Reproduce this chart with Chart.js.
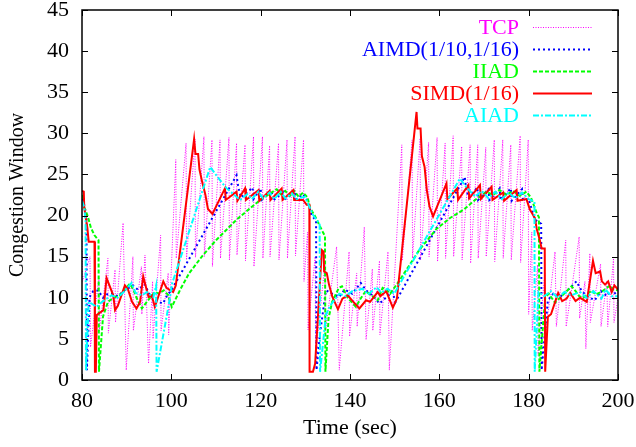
<!DOCTYPE html>
<html>
<head>
<meta charset="utf-8">
<script src="https://cdn.jsdelivr.net/npm/chart.js"></script>
<style>
    body { margin: 0; background: #fff; }
    #wrap { width: 636px; height: 447px; }
</style>
</head>
<body>
<div id="wrap"><canvas id="cwnd" width="636" height="447"></canvas></div>
<script>
// --- data (time in sec, congestion window) ---
const tcpX = [80.0, 80.1, 81.8, 81.9, 83.8, 83.9, 85.8, 85.9, 87.4, 87.5, 89.2, 89.9, 91.4, 91.5, 93.3, 93.4, 94.1, 94.9, 95.8, 95.9, 97.6, 97.7, 99.3, 99.4,
    101.0, 101.1, 103.3, 103.4, 105.3, 105.4, 107.3, 107.4, 109.1, 109.2, 110.9, 111.0, 112.9, 113.0, 114.6, 114.7, 116.5, 116.6, 118.4, 118.5,
    120.4, 120.5, 122.0, 122.1, 124.0, 124.1, 125.9, 126.0, 127.7, 127.8, 129.6, 129.7,
    130.5, 130.6, 132.2, 132.3, 134.4, 134.5, 137.0, 137.6, 139.8, 139.9, 141.5, 141.6, 143.2, 143.6, 145.0, 145.1, 146.6, 146.7, 148.5, 148.8,
    151.6, 151.7, 153.9, 154.0, 155.7, 155.8, 157.6, 157.7, 159.5, 159.6, 161.3, 161.4, 163.1, 163.2, 165.0, 165.1, 166.9, 167.0, 168.6, 168.7,
    170.4, 170.5, 172.3, 172.4, 174.2, 174.3, 176.0, 176.1, 178.1, 178.2, 179.9, 180.0,
    180.7, 180.8, 182.0, 182.1, 183.6, 183.7, 185.9, 186.2, 188.3, 188.4, 191.3, 191.4, 192.6, 192.8, 193.7, 193.8, 196.1, 196.2, 197.5, 197.7, 199.0, 199.1, 200.0];
const tcpY = [17.5, 12.0, 15.0, 4.0, 12.5, 6.0, 14.8, 5.7, 13.4, 7.0, 19.1, 1.2, 15.0, 6.0, 13.8, 8.0, 15.2, 2.0, 12.0, 5.0, 17.6, 6.0, 13.0, 5.5,
    26.8, 14.8, 28.8, 14.6, 29.3, 14.9, 29.6, 15.0, 29.2, 13.8, 29.2, 14.8, 29.5, 14.6, 28.8, 15.2, 28.6, 14.5, 29.6, 13.8,
    29.6, 14.8, 28.5, 15.0, 28.8, 14.6, 29.2, 14.8, 29.6, 15.1, 29.2, 12.0,
    18.0, 6.1, 15.0, 3.0, 14.2, 6.0, 16.2, 1.2, 15.6, 5.3, 13.0, 6.5, 18.6, 4.9, 13.5, 6.0, 14.5, 5.5, 15.6, 1.2,
    28.6, 14.5, 29.2, 14.8, 29.4, 14.6, 28.9, 15.0, 29.5, 14.4, 28.8, 14.8, 29.7, 15.0, 28.4, 14.6, 28.6, 14.2, 28.6, 14.8,
    28.3, 15.0, 29.2, 14.4, 29.2, 14.8, 28.6, 14.6, 29.7, 14.3, 29.2, 8.0,
    18.0, 6.0, 14.0, 3.0, 13.0, 5.0, 15.6, 6.5, 17.0, 6.5, 17.4, 7.5, 12.0, 3.8, 15.4, 7.0, 14.1, 6.5, 12.0, 6.5, 14.8, 7.0, 10.0];

const aimdX = [80.0, 80.5, 81.0, 81.1, 81.7, 82.5, 83.6, 84.7, 85.5, 86.6, 88.0, 89.5, 91.4, 92.5, 94.1, 95.0, 96.3, 98.1, 99.0, 100.1,
    114.6, 115.0, 115.6, 118.2, 118.4, 120.0, 120.2, 122.5, 122.7, 125.0, 125.2, 127.8, 128.0, 129.5, 130.5, 131.4, 132.4, 132.5, 133.3,
    134.6, 136.0, 137.6, 138.8, 140.5, 142.4, 143.6, 145.0, 146.6, 148.0, 149.5, 150.2,
    165.7, 166.0, 166.6, 168.5, 168.7, 171.0, 171.2, 173.5, 173.7, 176.0, 176.2, 178.5, 178.7, 180.0, 181.4, 182.8, 182.9,
    184.3, 185.5, 187.0, 188.5, 190.7, 191.8, 193.0, 194.8, 196.2, 197.5, 198.5, 200.0];
const aimdY = [22.0, 21.3, 20.0, 1.2, 10.1, 10.8, 10.9, 10.0, 10.4, 10.5, 10.2, 10.9, 11.5, 11.0, 11.6, 10.5, 9.7, 9.3, 10.2, 11.0,
    24.9, 23.4, 22.2, 23.4, 22.0, 23.3, 21.9, 23.0, 21.8, 22.8, 21.9, 22.9, 22.0, 22.6, 21.8, 20.0, 19.4, 1.2, 5.7,
    10.9, 10.5, 10.1, 11.0, 10.5, 11.8, 10.9, 10.3, 9.3, 10.0, 10.7, 9.5,
    24.7, 23.2, 22.2, 23.4, 21.9, 23.2, 21.9, 23.3, 21.9, 23.3, 21.8, 23.2, 21.9, 22.0, 19.5, 19.0, 1.2,
    9.7, 10.5, 10.1, 10.8, 12.0, 10.9, 10.2, 9.7, 10.8, 10.2, 11.0, 10.2];

const iiadX = [80.0, 80.5, 81.3, 82.0, 82.8, 83.7, 83.8, 84.7, 85.8, 87.0, 88.5, 89.5, 90.7, 91.5, 92.2, 93.4, 94.5, 96.3, 97.2, 98.3, 99.2, 100.1,
    102.0, 104.0, 107.1, 110.0, 114.6, 117.0, 119.9, 123.6, 124.5, 125.5, 126.5, 127.5, 128.5, 129.5, 130.5, 131.0, 132.2, 134.0, 134.4, 134.5,
    135.2, 136.0, 137.5, 138.2, 139.5, 141.3, 142.5, 143.5, 144.8, 146.2, 147.3, 148.0, 149.0,
    151.2, 155.5, 159.4, 162.4, 165.4, 168.0, 170.6, 172.0, 173.5, 175.0, 176.5, 178.0, 179.5, 180.5, 181.8, 182.3, 182.4,
    183.7, 184.5, 185.9, 187.0, 188.5, 189.6, 190.5, 191.3, 192.2, 194.1, 195.0, 196.5, 198.2, 199.0, 200.0];
const iiadY = [22.5, 21.0, 19.9, 18.5, 17.6, 17.0, 1.0, 7.7, 9.5, 10.0, 10.3, 11.0, 11.7, 11.0, 10.0, 8.7, 9.5, 10.7, 10.5, 10.9, 10.4, 8.9,
    11.0, 13.0, 15.2, 17.0, 19.5, 20.6, 21.9, 23.2, 22.6, 23.0, 22.4, 23.0, 22.3, 22.8, 22.2, 21.0, 19.9, 17.9, 17.5, 1.0,
    7.5, 9.5, 11.2, 11.4, 10.0, 8.9, 10.0, 10.8, 10.3, 9.7, 11.2, 11.0, 10.5,
    12.2, 15.8, 18.4, 19.7, 20.7, 21.9, 22.9, 22.5, 23.1, 22.5, 23.0, 22.4, 22.9, 22.2, 20.3, 19.8, 1.0,
    10.0, 10.5, 9.4, 10.0, 10.8, 11.4, 10.8, 10.2, 10.0, 10.9, 10.4, 10.8, 11.5, 11.0, 10.9];

const simdX = [80.0, 80.4, 80.5, 81.2, 81.5, 82.8, 82.9, 83.1, 83.3, 84.8, 85.5, 87.0, 87.4, 88.0, 89.6, 90.3, 91.2, 92.2, 93.0, 93.7,
    94.9, 95.6, 96.3, 97.0, 98.2, 98.9, 100.4, 101.0, 105.1, 105.4, 106.0, 106.3, 106.9, 107.6, 108.2, 109.2,
    112.0, 112.2, 114.6, 114.8, 116.5, 116.7, 119.5, 119.7, 122.0, 122.2, 124.7, 124.9, 127.3, 127.5, 129.5, 130.3, 130.9, 130.95,
    131.7, 132.2, 133.7, 134.1, 134.2, 134.8, 135.3, 136.0, 137.3, 138.3, 139.5, 140.6, 142.1, 143.6, 144.5, 146.2, 146.8, 148.1, 149.6, 150.5,
    154.9, 155.1, 155.8, 156.1, 156.7, 157.2, 157.8, 158.6, 161.6, 161.8, 164.0, 164.2, 166.5, 166.7, 169.1, 169.3, 171.7, 171.9,
    174.3, 174.5, 177.3, 177.5, 179.5, 180.3, 181.4, 181.8, 182.5, 182.9, 183.6, 183.7,
    184.3, 185.0, 186.6, 187.5, 188.5, 189.3, 190.5, 191.5, 193.0, 194.4, 195.0, 196.0, 196.4, 197.1, 197.8, 198.6, 199.2, 200.0];
const simdY = [23.0, 22.9, 21.0, 18.5, 16.8, 16.8, 1.0, 1.0, 7.9, 8.5, 12.4, 10.3, 8.5, 9.0, 11.5, 11.0, 9.5, 8.7, 9.5, 12.6,
    10.1, 10.3, 8.9, 10.0, 12.0, 11.2, 10.7, 11.5, 29.3, 27.5, 27.5, 25.6, 24.1, 22.6, 20.8, 20.2,
    23.3, 21.9, 22.9, 21.8, 23.3, 21.9, 23.1, 21.8, 23.0, 21.9, 23.3, 21.9, 23.1, 21.9, 21.9, 21.3, 21.3, 1.0,
    1.0, 2.0, 15.8, 15.6, 13.2, 13.0, 11.6, 10.2, 8.6, 9.9, 10.3, 9.6, 8.7, 9.7, 9.5, 10.7, 10.2, 10.8, 8.8, 9.9,
    32.6, 30.6, 30.6, 27.2, 25.9, 23.1, 21.1, 19.9, 23.9, 22.0, 23.3, 21.9, 23.7, 22.1, 23.7, 22.0, 23.5, 21.9,
    22.8, 21.8, 23.1, 21.8, 22.0, 20.7, 19.7, 18.4, 17.0, 16.0, 16.0, 1.0,
    7.7, 8.0, 10.6, 9.6, 9.9, 10.6, 9.6, 10.0, 9.5, 14.5, 13.0, 13.2, 12.0, 11.6, 12.0, 10.7, 11.5, 11.0];

const aiadX = [80.0, 80.5, 80.8, 80.9, 81.5, 83.3, 84.5, 86.6, 88.0, 89.5, 91.1, 92.0, 93.5, 94.5, 96.0, 96.6, 96.7, 99.7, 100.1,
    108.7, 110.9, 112.4, 115.4, 117.0, 118.0, 119.5, 120.5, 122.0, 123.0, 124.5, 125.5, 127.0, 128.0, 129.9, 131.8, 133.2, 133.3,
    134.6, 135.5, 137.6, 139.0, 140.5, 142.8, 144.0, 146.0, 147.0, 148.4, 149.9,
    164.6, 166.0, 168.0, 169.5, 171.0, 172.5, 174.0, 175.5, 177.0, 178.5, 180.0, 181.3, 181.35,
    182.2, 183.5, 185.0, 186.5, 188.0, 189.5, 191.5, 193.0, 194.5, 196.3, 197.2, 198.5, 200.0];
const aiadY = [21.8, 21.0, 19.5, 1.2, 9.5, 8.9, 9.5, 10.3, 10.0, 10.8, 11.8, 10.6, 10.3, 10.7, 10.1, 11.5, 1.0, 10.0, 11.6,
    25.9, 24.3, 23.3, 21.9, 22.6, 22.0, 22.9, 22.1, 22.8, 22.0, 22.9, 22.1, 22.7, 22.0, 22.3, 20.0, 19.0, 1.0,
    7.9, 9.0, 10.5, 10.2, 10.8, 11.1, 10.4, 11.3, 10.6, 11.1, 10.5,
    24.5, 23.5, 22.3, 23.0, 22.1, 22.9, 22.0, 22.8, 22.1, 22.8, 22.0, 21.7, 1.0,
    10.7, 10.2, 10.8, 10.0, 10.7, 10.3, 10.7, 10.0, 10.8, 9.9, 11.0, 10.2, 10.2];

const xTicks = [80, 100, 120, 140, 160, 180, 200];
const yTicks = [0, 5, 10, 15, 20, 25, 30, 35, 40, 45];

function pts(xs, ys) {
    return xs.map((x, i) => ({ x: x, y: ys[i] }));
}

const serif = "'Liberation Serif', 'Times New Roman', serif";
const font = { family: serif, size: 22 };

// gnuplot-like frame with inward ticks on all four sides
const frameTicks = {
    id: 'frameTicks',
    afterDatasetsDraw(chart) {
        const { ctx, chartArea: a, scales: { x, y } } = chart;
        const len = 6;
        ctx.save();
        ctx.strokeStyle = '#000';
        ctx.lineWidth = 1;
        ctx.beginPath();
        xTicks.forEach(v => {
            const px = Math.round(x.getPixelForValue(v)) + 0.5;
            ctx.moveTo(px, a.bottom); ctx.lineTo(px, a.bottom - len);
            ctx.moveTo(px, a.top); ctx.lineTo(px, a.top + len);
        });
        yTicks.forEach(v => {
            const py = Math.round(y.getPixelForValue(v)) + 0.5;
            ctx.moveTo(a.left, py); ctx.lineTo(a.left + len, py);
            ctx.moveTo(a.right, py); ctx.lineTo(a.right - len, py);
        });
        ctx.stroke();
        ctx.lineWidth = 1.5;
        ctx.strokeRect(a.left, a.top, a.right - a.left, a.bottom - a.top);
        ctx.restore();
    }
};

// key in the top right corner: coloured text, then a line sample
const keyBox = {
    id: 'keyBox',
    afterDraw(chart) {
        const { ctx, chartArea: a } = chart;
        ctx.save();
        ctx.font = '22px ' + serif;
        ctx.textAlign = 'right';
        ctx.textBaseline = 'middle';
        chart.data.datasets.forEach((ds, i) => {
            const yy = Math.round(a.top + 16.6 + i * 22.1);
            ctx.fillStyle = ds.borderColor;
            ctx.fillText(ds.label, a.right - 99, yy + 1);
            ctx.strokeStyle = ds.borderColor;
            ctx.lineWidth = ds.borderWidth;
            ctx.setLineDash(ds.borderDash || []);
            ctx.beginPath();
            ctx.moveTo(a.right - 85, yy + 0.5);
            ctx.lineTo(a.right - 26, yy + 0.5);
            ctx.stroke();
        });
        ctx.restore();
    }
};

const ctx = document.getElementById('cwnd').getContext('2d');

const chart = new Chart(ctx, {
    type: 'scatter',
    data: {
        datasets: [
            { label: 'TCP', data: pts(tcpX, tcpY), borderColor: '#ff00ff', borderWidth: 1, borderDash: [1, 1.5], order: 4 },
            { label: 'AIMD(1/10,1/16)', data: pts(aimdX, aimdY), borderColor: '#0000ff', borderWidth: 2, borderDash: [2, 3], order: 3 },
            { label: 'IIAD', data: pts(iiadX, iiadY), borderColor: '#00ff00', borderWidth: 2, borderDash: [4, 2], order: 2 },
            { label: 'SIMD(1/16)', data: pts(simdX, simdY), borderColor: '#ff0000', borderWidth: 2, order: 1 },
            { label: 'AIAD', data: pts(aiadX, aiadY), borderColor: '#00ffff', borderWidth: 2, borderDash: [6, 2, 2, 2], order: 0 }
        ]
    },
    options: {
        responsive: false,
        animation: false,
        showLine: true,
        layout: { padding: { left: 0, right: 18, top: 10, bottom: 0 } },
        elements: { point: { radius: 0 }, line: { tension: 0, fill: false } },
        plugins: { legend: { display: false }, tooltip: { enabled: false } },
        scales: {
            x: {
                type: 'linear', min: 80, max: 200,
                afterFit: s => { s.height = 67; },
                // tick marks are drawn by frameTicks; tickLength only spaces the labels
                grid: { display: false, drawTicks: true, tickLength: 8 },
                border: { display: false },
                ticks: { stepSize: 20, padding: 0, color: '#000', font: font },
                title: { display: true, text: 'Time (sec)', color: '#000', font: font, padding: { top: 0, bottom: 6 } }
            },
            y: {
                min: 0, max: 45,
                afterFit: s => { s.width = 82; },
                grid: { display: false, drawTicks: true, tickLength: 13 },
                border: { display: false },
                ticks: { stepSize: 5, padding: 0, color: '#000', font: { family: serif, size: 22, lineHeight: 0.9 } },
                title: { display: true, text: 'Congestion Window', color: '#000', font: { family: serif, size: 20 }, padding: { top: 6, bottom: 0 } }
            }
        }
    },
    plugins: [frameTicks, keyBox]
});
</script>
</body>
</html>
